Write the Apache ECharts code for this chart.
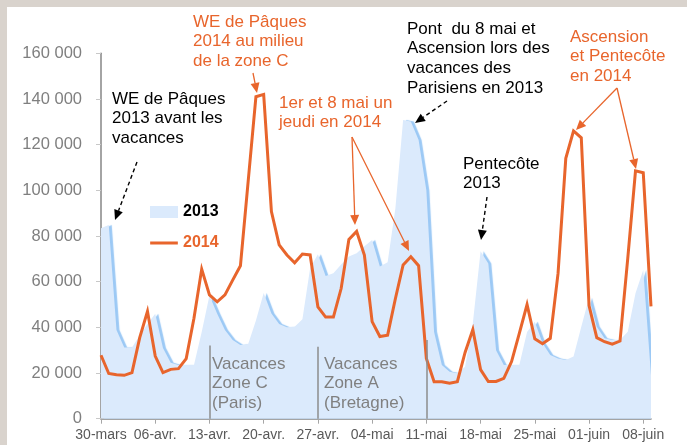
<!DOCTYPE html>
<html>
<head>
<meta charset="utf-8">
<script src="https://cdn.jsdelivr.net/npm/echarts@6.0.0/dist/echarts.min.js"></script>
<style>
  html, body { margin: 0; padding: 0; background: #fff; }
  #chart { width: 687px; height: 445px; }
</style>
</head>
<body>
<div id="chart"></div>
<script>
// jours du 30 mars au 9 juin
var days = [
  '30-mars','31-mars',
  '01-avr.','02-avr.','03-avr.','04-avr.','05-avr.','06-avr.','07-avr.','08-avr.','09-avr.','10-avr.',
  '11-avr.','12-avr.','13-avr.','14-avr.','15-avr.','16-avr.','17-avr.','18-avr.','19-avr.','20-avr.',
  '21-avr.','22-avr.','23-avr.','24-avr.','25-avr.','26-avr.','27-avr.','28-avr.','29-avr.','30-avr.',
  '01-mai','02-mai','03-mai','04-mai','05-mai','06-mai','07-mai','08-mai','09-mai','10-mai',
  '11-mai','12-mai','13-mai','14-mai','15-mai','16-mai','17-mai','18-mai','19-mai','20-mai',
  '21-mai','22-mai','23-mai','24-mai','25-mai','26-mai','27-mai','28-mai','29-mai','30-mai','31-mai',
  '01-juin','02-juin','03-juin','04-juin','05-juin','06-juin','07-juin','08-juin','09-juin'
];

var y2013 = [
  83400, 84800, 38800, 31200, 31200, 36500, 41500, 46000, 31000, 24500,
  23500, 23500, 23500, 38000, 54000, 46000, 38800, 34500, 32300, 32700,
  43000, 55000, 46100, 41500, 40000, 40300, 43500, 66000, 72000, 62500,
  63700, 67500, 71000, 72500, 75500, 78300, 66600, 68500, 92000, 130800,
  130100, 122000, 100000, 38000, 23500, 20600, 19900, 22800, 41800, 73300,
  68000, 30000, 23500, 23500, 23500, 38000, 42500, 33000, 27900, 26400,
  25700, 27200, 40300, 53000, 40300, 35200, 34500, 34500, 38100, 54900,
  65100, 19000
];

var y2014 = [
  27800, 19800, 19200, 19000, 20200, 35500, 47000, 27400, 20200, 21600,
  21900, 26300, 44000, 65500, 54200, 51200, 54200, 60700, 67000, 104000,
  141000, 142000, 90700, 76100, 71700, 68300, 72100, 71700, 49000, 44500,
  44500, 57000, 78500, 82000, 71700, 42500, 36000, 36600, 52500, 67300,
  70900, 67000, 26400, 16200, 16200, 15500, 16200, 29000, 39000, 21500,
  16300, 16300, 17700, 25000, 37400, 50000, 35000, 32800, 35200, 63600,
  114000, 126000, 123000, 49500, 35500, 33700, 32600, 34000, 70200, 108500,
  107700, 49200
];

// debut des vacances (trait vertical) : jour, hauteur
var vacDays = ['13-avr.', '27-avr.', '11-mai'];
var vacTops = [32000, 31500, 34500];

var orange = '#e8652c';
var blue = '#dbeafc';
var font = 'Liberation Sans, Arial, sans-serif';

function arrow(x1, y1, x2, y2, color, dashed) {
  var a = Math.atan2(y2 - y1, x2 - x1);
  var L = 10, W = 4.5;
  var c = Math.cos(a), s = Math.sin(a);
  var bx = x2 - L * c, by = y2 - L * s;
  return [
    {
      type: 'line', silent: true, z: 10,
      shape: { x1: x1, y1: y1, x2: bx, y2: by },
      style: { stroke: color, lineWidth: dashed ? 1.4 : 1.3, lineDash: dashed ? [4, 3] : null }
    },
    {
      type: 'polygon', silent: true, z: 10,
      shape: { points: [[x2, y2], [bx + W * s, by - W * c], [bx - W * s, by + W * c]] },
      style: { fill: color }
    }
  ];
}

function note(x, y, text, color) {
  return {
    type: 'text', silent: true, z: 10, x: x, y: y,
    style: { text: text, fill: color, font: '17px ' + font, lineHeight: 19.7 }
  };
}

var graphics = [
  // cadre beige
  { type: 'rect', shape: { x: 0, y: 0, width: 687, height: 7 }, style: { fill: '#d9d3cd' }, z: 0 },
  { type: 'rect', shape: { x: 0, y: 0, width: 7, height: 445 }, style: { fill: '#d9d3cd' }, z: 0 },
  note(112, 89, 'WE de Pâques\n2013 avant les\nvacances', '#000'),
  note(193, 12, 'WE de Pâques\n2014 au milieu\nde la zone C', orange),
  note(279, 93, '1er et 8 mai un\njeudi en 2014', orange),
  note(407, 19, 'Pont  du 8 mai et\nAscension lors des\nvacances des\nParisiens en 2013', '#000'),
  note(463, 154, 'Pentecôte\n2013', '#000'),
  note(570, 27, 'Ascension\net Pentecôte\nen 2014', orange),
  note(212, 354, 'Vacances\nZone C\n(Paris)', '#808080'),
  note(324, 354, 'Vacances\nZone A\n(Bretagne)', '#808080')
];
graphics = graphics
  .concat(arrow(137, 162, 115, 220, '#000', true))
  .concat(arrow(253, 73, 257, 93, orange, false))
  .concat(arrow(352, 137, 355, 225, orange, false))
  .concat(arrow(352, 137, 409, 251, orange, false))
  .concat(arrow(447, 101, 415, 123, '#000', true))
  .concat(arrow(487, 197, 481, 240, '#000', true))
  .concat(arrow(617, 88, 576, 130, orange, false))
  .concat(arrow(617, 88, 636, 169, orange, false));

var myChart = echarts.init(document.getElementById('chart'));

var option = {
  backgroundColor: '#fff',
  animation: false,
  textStyle: { fontFamily: font },
  grid: { left: 101, right: 36, top: 53.3, bottom: 26.3, containLabel: false },
  legend: {
    orient: 'vertical',
    left: 145,
    top: 199,
    itemWidth: 28,
    itemHeight: 12,
    itemGap: 15,
    selectedMode: false,
    textStyle: { fontSize: 16, fontWeight: 'bold', fontFamily: font, color: '#000' },
    data: [
      { name: '2013', icon: 'rect', itemStyle: { color: blue } },
      {
        name: '2014',
        icon: 'path://M0,0H0.01V0.01H0Z M0,5H30V8H0Z M0,13H0.01V13.01H0Z',
        itemStyle: { color: orange },
        textStyle: { color: orange }
      }
    ]
  },
  xAxis: {
    type: 'category',
    data: days,
    boundaryGap: false,
    axisLine: { lineStyle: { color: '#868686', width: 1.5 } },
    axisTick: { interval: 6, length: 5, lineStyle: { color: '#a6a6a6' } },
    axisLabel: { interval: 6, margin: 9, fontSize: 14, color: '#595959', fontFamily: font },
    splitLine: { show: false }
  },
  yAxis: {
    type: 'value',
    min: 0,
    max: 160000,
    interval: 20000,
    axisLine: { show: true, lineStyle: { color: '#868686', width: 1.5 } },
    axisTick: { show: true, length: 5, lineStyle: { color: '#c8c8c8' } },
    axisLabel: {
      margin: 19, fontSize: 16.5, color: '#7f7f7f', fontFamily: font,
      formatter: function (v) { return v.toString().replace(/\B(?=(\d{3})+(?!\d))/g, ' '); }
    },
    splitLine: { show: false }
  },
  series: [
    {
      name: '2013',
      type: 'line',
      data: y2013,
      color: blue,
      showSymbol: false,
      symbol: 'none',
      lineStyle: { width: 0 },
      areaStyle: {
        color: blue, opacity: 1,
        shadowColor: '#9cc9f5', shadowOffsetX: 3, shadowOffsetY: 0, shadowBlur: 1
      },
      z: 1,
      markLine: {
        silent: true,
        symbol: 'none',
        label: { show: false },
        lineStyle: { color: '#8c8c8c', width: 1.5, type: 'solid' },
        data: vacDays.map(function (d, i) {
          return [{ coord: [d, 0] }, { coord: [d, vacTops[i]] }];
        })
      }
    },
    {
      name: '2014',
      type: 'line',
      data: y2014,
      color: orange,
      showSymbol: false,
      symbol: 'none',
      lineStyle: { width: 3, color: orange, join: 'miter' },
      z: 3
    }
  ],
  graphic: graphics
};

myChart.setOption(option);
</script>
</body>
</html>
